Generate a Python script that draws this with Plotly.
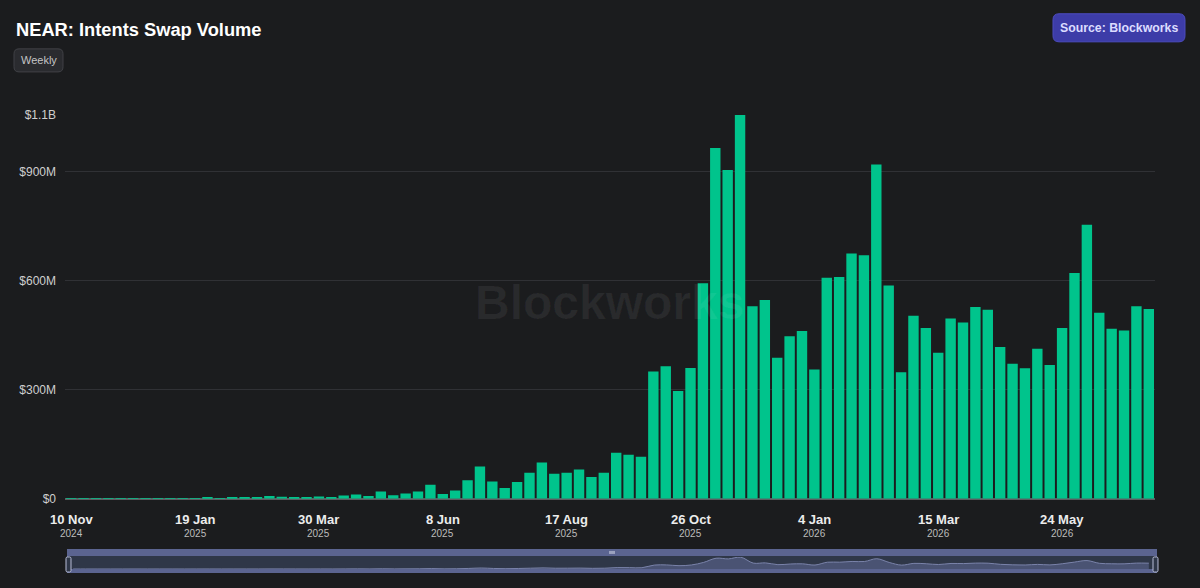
import pandas as pd
import plotly.graph_objects as go

# ---------------- data ----------------
start_week = "2024-11-10"
# weekly intents swap volume, $M
volume_musd = [
    0.3, 0.4, 0.5, 0.4, 0.6, 1.2, 1.0, 1.5, 1.3, 1.0,
    1.8, 4, 2, 4, 4, 4.5, 8, 6, 5, 3,
    6.5, 4, 9, 12, 8, 20, 10, 15, 20, 39,
    13, 23, 51, 89, 48, 30, 46, 72, 100, 69,
    72, 81, 60, 72, 127, 121, 116, 350, 365, 297,
    360, 593, 965, 905, 1056, 530, 547, 388, 447, 462,
    356, 608, 610, 675, 670, 920, 587, 348, 504, 470,
    402, 496, 485, 528, 520, 418, 372, 359, 413, 368,
    470, 621, 754, 512, 468, 463, 530, 522,
]
tick_dates = ["2024-11-10", "2025-01-19", "2025-03-30", "2025-06-08", "2025-08-17",
              "2025-10-26", "2026-01-04", "2026-03-15", "2026-05-24"]
tick_day_labels = ["10 Nov", "19 Jan", "30 Mar", "8 Jun", "17 Aug",
                   "26 Oct", "4 Jan", "15 Mar", "24 May"]
tick_year_labels = ["2024", "2025", "2025", "2025", "2025",
                    "2025", "2026", "2026", "2026"]
y_tick_values_musd = [0, 300, 600, 900]
y_tick_labels = ["$0", "$300M", "$600M", "$900M", "$1.1B"]

weeks = pd.date_range(start_week, periods=len(volume_musd), freq="7D")
values = [v * 1e6 for v in volume_musd]
ymax = max(values)

# ---------------- layout geometry ----------------
W, H = 1200, 588
H_RENDER = 582  # effective rendered height observed
ML, MR, MT, MB = 65, 45, 115, 14
PW, PH = W - ML - MR, H_RENDER - MT - MB

def px(x):
    return (x - ML) / PW

def py(y):
    return (MT + PH - y) / PH

def rounded(x0, y0, x1, y1, r):
    pts = [
        ("M", [(x0 + r, y0)]), ("L", [(x1 - r, y0)]), ("Q", [(x1, y0), (x1, y0 + r)]),
        ("L", [(x1, y1 - r)]), ("Q", [(x1, y1), (x1 - r, y1)]), ("L", [(x0 + r, y1)]),
        ("Q", [(x0, y1), (x0, y1 - r)]), ("L", [(x0, y0 + r)]), ("Q", [(x0, y0), (x0 + r, y0)]),
    ]
    s = ""
    for cmd, ps in pts:
        s += cmd + " " + " ".join(f"{px(a):.5f},{py(b):.5f}" for a, b in ps) + " "
    return s + "Z"

BG = "#1b1c1e"
FONT = "Liberation Sans, Arial, sans-serif"
half_week = pd.Timedelta(days=3.5)
xrange = [weeks[0] - half_week, weeks[-1] + half_week]

fig = go.Figure()

fig.add_trace(go.Bar(
    x=weeks, y=values, marker=dict(color="#00c48c", line=dict(width=0)),
    xaxis="x", yaxis="y", hoverinfo="x+y", showlegend=False,
))

# mini overview (range selector look-alike)
fig.add_trace(go.Scatter(
    x=weeks, y=values, mode="lines", fill="tozeroy",
    line=dict(color="#7a83aa", width=1, shape="spline"), fillcolor="#4a5373",
    xaxis="x2", yaxis="y2", hoverinfo="skip", showlegend=False,
))

main_bottom = py(498)
fig.update_layout(
    width=W, height=H, autosize=False,
    margin=dict(l=ML, r=MR, t=MT, b=MB),
    paper_bgcolor=BG, plot_bgcolor=BG,
    font=dict(family=FONT, color="#d0d0d0"),
    bargap=0.16,
    title=dict(text="<b>NEAR: Intents Swap Volume</b>", x=16 / W, xref="container",
               xanchor="left", y=1 - 29 / H_RENDER, yref="container", yanchor="middle",
               font=dict(size=18.3, color="#ffffff", family=FONT)),
    xaxis=dict(type="date", range=xrange, domain=[0, 1], anchor="y",
               showgrid=False, zeroline=False, showline=False, showticklabels=False,
               fixedrange=True),
    yaxis=dict(domain=[main_bottom, 1], range=[0, ymax],
               tickvals=[v * 1e6 for v in y_tick_values_musd] + [ymax],
               ticktext=y_tick_labels,
               tickfont=dict(size=12, color="#cfcfcf"), ticklabelstandoff=8,
               showgrid=True, gridcolor="#303135", gridwidth=1,
               zeroline=True, zerolinecolor="#5c5d61", zerolinewidth=1.5,
               showline=False, fixedrange=True),
    xaxis2=dict(type="date", range=xrange, domain=[px(67), 1], anchor="y2",
                visible=False, fixedrange=True),
    yaxis2=dict(domain=[py(568), py(556)], range=[0, ymax * 1.02],
                visible=False, fixedrange=True),
)

shapes = [
    # Weekly button
    dict(type="path", path=rounded(14, 49, 63, 72, 5), xref="paper", yref="paper",
         fillcolor="#2a2b2f", line=dict(color="#404146", width=1), layer="above"),
    # Source button
    dict(type="path", path=rounded(1053, 14, 1185, 42, 6), xref="paper", yref="paper",
         fillcolor="#3d3ca8", line=dict(color="#4d4cc0", width=1), layer="above"),
    # overview frame
    dict(type="rect", xref="paper", yref="paper", x0=px(67), x1=px(1157), y0=py(572), y1=py(548),
         fillcolor="#5b6490", line=dict(width=0), layer="below"),
    dict(type="rect", xref="paper", yref="paper", x0=px(68), x1=px(1156), y0=py(568), y1=py(555),
         fillcolor="#2f3748", line=dict(width=0), layer="below"),
    # handles
    dict(type="path", path=rounded(66, 556, 71, 571, 1.5), xref="paper", yref="paper",
         fillcolor="#2f3748", line=dict(color="#b9bed8", width=1), layer="above"),
    dict(type="path", path=rounded(1153, 556, 1158, 571, 1.5), xref="paper", yref="paper",
         fillcolor="#2f3748", line=dict(color="#b9bed8", width=1), layer="above"),
]
for gx in (610, 612, 614):
    shapes.append(dict(type="line", xref="paper", yref="paper", x0=px(gx), x1=px(gx),
                       y0=py(553), y1=py(550), line=dict(color="#dde0ee", width=1), layer="above"))
fig.update_layout(shapes=shapes)

ann = [
    dict(text="Weekly", x=px(38.5), y=py(60.5), xref="paper", yref="paper",
         xanchor="center", yanchor="middle", showarrow=False,
         font=dict(size=11, color="#c4c4c4", family=FONT)),
    dict(text="<b>Source: Blockworks</b>", x=px(1119), y=py(28), xref="paper", yref="paper",
         xanchor="center", yanchor="middle", showarrow=False,
         font=dict(size=12.3, color="#dcdcff", family=FONT)),
    dict(text="<b>Blockworks</b>", x=px(609), y=py(302), xref="paper", yref="paper",
         xanchor="center", yanchor="middle", showarrow=False,
         font=dict(size=48, color="rgba(255,255,255,0.06)", family=FONT)),
]
for d, lab, yr in zip(tick_dates, tick_day_labels, tick_year_labels):
    ann.append(dict(text=f"<b>{lab}</b>", x=d, y=py(519), xref="x", yref="paper",
                    xanchor="center", yanchor="middle", showarrow=False,
                    font=dict(size=13, color="#ececec", family=FONT)))
    ann.append(dict(text=yr, x=d, y=py(533), xref="x", yref="paper",
                    xanchor="center", yanchor="middle", showarrow=False,
                    font=dict(size=10, color="#bdbdbd", family=FONT)))
fig.update_layout(annotations=ann)

fig.write_html("out.html")
